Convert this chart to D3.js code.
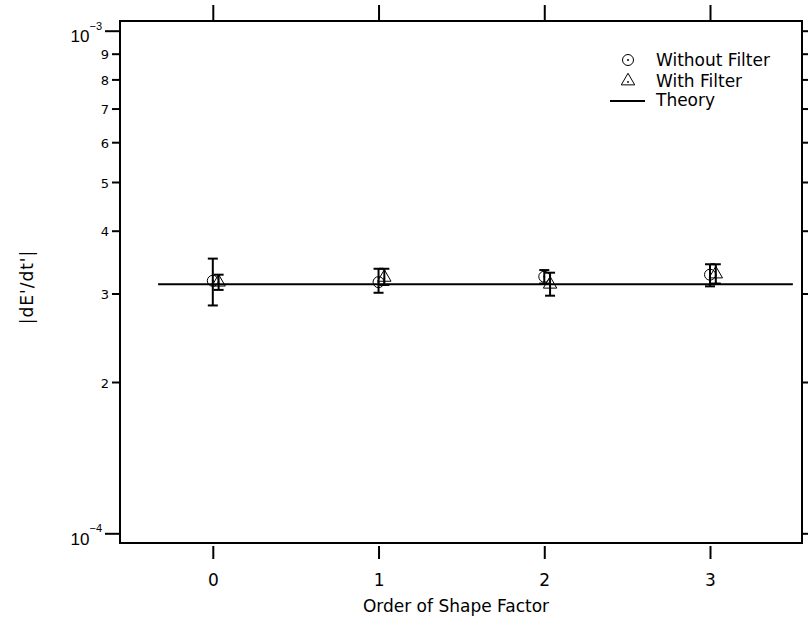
<!DOCTYPE html>
<html>
<head>
<meta charset="utf-8">
<script src="https://cdn.jsdelivr.net/npm/d3@7"></script>
<style>
  body { margin: 0; background: #fff; }
  svg { font-family: "DejaVu Sans", sans-serif; }
</style>
</head>
<body>
<div id="chart"></div>
<script>
// data
var orders = [0, 1, 2, 3];
var xWithout = [0, 1, 2, 3];
var xWith = [0.035, 1.035, 2.035, 3.035];
var withoutVal = [3.18e-4, 3.16e-4, 3.24e-4, 3.27e-4];
var withoutLow = [2.84e-4, 3.01e-4, 3.14e-4, 3.10e-4];
var withoutHigh = [3.52e-4, 3.36e-4, 3.34e-4, 3.43e-4];
var withVal = [3.16e-4, 3.23e-4, 3.13e-4, 3.28e-4];
var withLow = [3.05e-4, 3.12e-4, 2.97e-4, 3.14e-4];
var withHigh = [3.27e-4, 3.36e-4, 3.30e-4, 3.43e-4];
var theoryX = [-0.33, 3.5];
var theoryVal = [3.13e-4, 3.13e-4];
var majorTicks = [1e-4, 1e-3];
var minorTicks = [2e-4, 3e-4, 4e-4, 5e-4, 6e-4, 7e-4, 8e-4, 9e-4];
var legendLabels = ["Without Filter", "With Filter", "Theory"];

var svgWidth = 808, svgHeight = 622;
var box = { left: 120, right: 802, top: 21, bottom: 543 };

var svg = d3.select("#chart").append("svg")
  .attr("width", svgWidth)
  .attr("height", svgHeight);

var x = d3.scaleLinear().domain([0, 3]).range([212.8, 710]);
var y = d3.scaleLog().domain([1e-4, 1e-3]).range([533.3, 30.7]);

function clean(g) {
  g.select(".domain").remove();
  g.selectAll(".tick line").attr("stroke", "#000").attr("stroke-width", 2);
}

// left axis: major ticks with 10^n labels
var leftMajor = svg.append("g")
  .attr("transform", `translate(${box.left},0)`)
  .call(d3.axisLeft(y).tickValues(majorTicks).tickSize(15).tickPadding(3).tickFormat(""))
  .call(clean);
leftMajor.selectAll(".tick text").remove();
leftMajor.selectAll(".tick").append("text")
  .attr("x", -18)
  .attr("dy", 11)
  .attr("text-anchor", "end")
  .attr("fill", "#000")
  .each(function(d) {
    var t = d3.select(this);
    t.append("tspan").attr("font-size", 17).text("10");
    t.append("tspan").attr("font-size", 11).attr("dy", -12.5)
      .text("\u2212" + Math.abs(Math.round(Math.log10(d))));
  });

// left axis: minor ticks with digit labels
svg.append("g")
  .attr("transform", `translate(${box.left},0)`)
  .call(d3.axisLeft(y).tickValues(minorTicks).tickSize(8).tickPadding(3)
    .tickFormat(d => Math.round(d * 1e4)))
  .call(clean)
  .selectAll(".tick text")
  .attr("font-size", 13)
  .attr("font-family", "DejaVu Sans")
  .attr("dy", "0.4em")
  .attr("fill", "#000");

// right axis ticks (no labels)
svg.append("g")
  .attr("transform", `translate(${box.right},0)`)
  .call(d3.axisRight(y).tickValues(majorTicks).tickSize(15).tickFormat(""))
  .call(clean);
svg.append("g")
  .attr("transform", `translate(${box.right},0)`)
  .call(d3.axisRight(y).tickValues(minorTicks).tickSize(8).tickFormat(""))
  .call(clean);

// top axis ticks
svg.append("g")
  .attr("transform", `translate(0,${box.top})`)
  .call(d3.axisTop(x).tickValues(orders).tickSize(16).tickFormat(""))
  .call(clean);

// bottom axis
svg.append("g")
  .attr("transform", `translate(0,${box.bottom + 3})`)
  .call(d3.axisBottom(x).tickValues(orders).tickSize(13).tickPadding(15).tickFormat(d3.format("d")))
  .call(clean)
  .selectAll(".tick text")
  .attr("font-size", 17)
  .attr("font-family", "DejaVu Sans")
  .attr("fill", "#000");

// frame
svg.append("rect")
  .attr("x", box.left).attr("y", box.top)
  .attr("width", box.right - box.left)
  .attr("height", box.bottom - box.top)
  .attr("fill", "none")
  .attr("stroke", "#000")
  .attr("stroke-width", 2);

// axis titles
svg.append("text")
  .attr("x", 456).attr("y", 612)
  .attr("text-anchor", "middle")
  .attr("font-size", 17)
  .text("Order of Shape Factor");

svg.append("text")
  .attr("transform", "translate(33,287) rotate(-90)")
  .attr("text-anchor", "middle")
  .attr("font-size", 17)
  .attr("letter-spacing", 1)
  .text("|dE'/dt'|");

// theory line
var line = d3.line().x(d => x(d[0])).y(d => y(d[1]));
svg.append("path")
  .datum(theoryX.map((v, i) => [v, theoryVal[i]]))
  .attr("d", line)
  .attr("fill", "none")
  .attr("stroke", "#000")
  .attr("stroke-width", 2);

// error bars
function errorBars(xs, lows, highs) {
  var g = svg.append("g").attr("stroke", "#000").attr("stroke-width", 2);
  xs.forEach(function(xv, i) {
    var cx = x(xv);
    g.append("line").attr("x1", cx).attr("x2", cx).attr("y1", y(lows[i])).attr("y2", y(highs[i]));
    g.append("line").attr("x1", cx - 5).attr("x2", cx + 5).attr("y1", y(lows[i])).attr("y2", y(lows[i]));
    g.append("line").attr("x1", cx - 5).attr("x2", cx + 5).attr("y1", y(highs[i])).attr("y2", y(highs[i]));
  });
}
errorBars(xWithout, withoutLow, withoutHigh);
errorBars(xWith, withLow, withHigh);

// markers
var triPath = d3.symbol().type(d3.symbolTriangle).size(78)();

function circleMarker(g, cx, cy) {
  g.append("circle").attr("cx", cx).attr("cy", cy).attr("r", 5.5)
    .attr("fill", "none").attr("stroke", "#000").attr("stroke-width", 1);
  g.append("circle").attr("cx", cx).attr("cy", cy).attr("r", 1).attr("fill", "#000");
}
function triMarker(g, cx, cy) {
  g.append("path").attr("d", triPath).attr("transform", `translate(${cx},${cy})`)
    .attr("fill", "none").attr("stroke", "#000").attr("stroke-width", 1);
  g.append("circle").attr("cx", cx).attr("cy", cy + 1).attr("r", 0.9).attr("fill", "#000");
}

var markers = svg.append("g");
xWithout.forEach((xv, i) => circleMarker(markers, x(xv), y(withoutVal[i])));
xWith.forEach((xv, i) => triMarker(markers, x(xv), y(withVal[i])));

// legend
var legend = svg.append("g");
circleMarker(legend, 628, 60);
triMarker(legend, 628, 81);
legend.append("line").attr("x1", 610).attr("x2", 645).attr("y1", 101).attr("y2", 101)
  .attr("stroke", "#000").attr("stroke-width", 2);
legend.selectAll("text.leg")
  .data(legendLabels)
  .enter()
  .append("text")
  .attr("class", "leg")
  .attr("x", 656)
  .attr("y", (d, i) => [66, 86.5, 106][i])
  .attr("font-size", 17)
  .text(d => d);
</script>
</body>
</html>
